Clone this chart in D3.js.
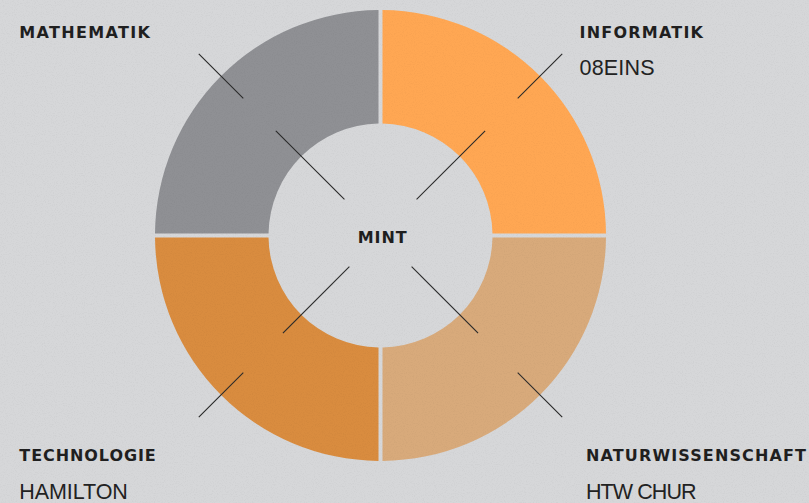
<!DOCTYPE html>
<html>
<head>
<meta charset="utf-8">
<script src="https://cdn.jsdelivr.net/npm/d3@7"></script>
<style>
  html, body { margin: 0; padding: 0; background: #d6d7d9; }
  svg { display: block; }
</style>
</head>
<body>
<div id="chart"></div>
<script>
// ---- data ----
const categories = ["INFORMATIK", "NATURWISSENSCHAFT", "TECHNOLOGIE", "MATHEMATIK"];
const values = [1, 1, 1, 1];
const partners = ["08EINS", "HTW CHUR", "HAMILTON", ""];
const centerLabel = "MINT";
const colors = ["#ffa753", "#d8aa7b", "#d98c3f", "#8f9094"];

// ---- layout ----
const W = 809, H = 503;
const cx = 380.5, cy = 235.5;
const rOuter = 225.5, rInner = 112;

const svg = d3.select("#chart").append("svg").attr("width", W).attr("height", H);
const defs = svg.append("defs");
const f = defs.append("filter").attr("id", "noise").attr("x", 0).attr("y", 0).attr("width", "100%").attr("height", "100%");
f.append("feTurbulence").attr("type", "fractalNoise").attr("baseFrequency", 0.9).attr("numOctaves", 2).attr("seed", 3).attr("result", "t");
f.append("feColorMatrix").attr("in", "t").attr("type", "matrix")
  .attr("values", "0 0 0 0 0  0 0 0 0 0  0 0 0 0 0  0 0 0 -0.9 0.5");

svg.append("rect").attr("width", W).attr("height", H).attr("fill", "#d6d7d9");

const g = svg.append("g").attr("transform", `translate(${cx},${cy})`);

const pie = d3.pie().sort(null).value(d => d.value);
const arcs = pie(categories.map((c, i) => ({ cat: c, value: values[i], color: colors[i] })));

const arc = d3.arc().innerRadius(rInner).outerRadius(rOuter)
  .padAngle(4 / Math.sqrt(rInner * rInner + rOuter * rOuter));

g.selectAll("path.seg").data(arcs).join("path")
  .attr("class", "seg")
  .attr("d", arc)
  .attr("fill", d => d.data.color);

// subtle paper texture
svg.append("rect").attr("width", W).attr("height", H)
  .attr("filter", "url(#noise)").attr("opacity", 0.08);

// leader lines per quadrant (inner pair and outer pair), along the mid angle
const innerSpans = [[51, 148], [44, 138], [44, 138], [51, 148]];
const outerSpan = [194, 257];
arcs.forEach((a, i) => {
  const ang = (a.startAngle + a.endAngle) / 2;
  const dx = Math.sin(ang), dy = -Math.cos(ang);
  [innerSpans[i], outerSpan].forEach(s => {
    g.append("line")
      .attr("x1", dx * s[0]).attr("y1", dy * s[0])
      .attr("x2", dx * s[1]).attr("y2", dy * s[1])
      .attr("stroke", "#2a2a2a").attr("stroke-width", 1.1);
  });
});

const boldFont = "DejaVu Sans, Verdana, sans-serif";

// center label
g.append("text").text(centerLabel)
  .attr("x", -22.8).attr("y", 7.2)
  .attr("font-family", boldFont)
  .attr("font-weight", "bold").attr("font-size", 16)
  .attr("textLength", 49).attr("lengthAdjust", "spacing")
  .attr("fill", "#1f1f1f");

// corner labels
const labelPos = [
  { x: 579.5, y: 37.7, w: 123.5, sy: 75, sw: 75 },
  { x: 586, y: 461, w: 220, sy: 499, sw: 110.5 },
  { x: 19.3, y: 461, w: 136.5, sy: 499, sw: 108.5 },
  { x: 19.3, y: 37.7, w: 130.7, sy: 75, sw: 0 }
];
categories.forEach((c, i) => {
  const p = labelPos[i];
  svg.append("text").text(c)
    .attr("x", p.x).attr("y", p.y)
    .attr("font-family", boldFont)
    .attr("font-weight", "bold").attr("font-size", 16)
    .attr("textLength", p.w).attr("lengthAdjust", "spacing")
    .attr("fill", "#1f1f1f");
  if (partners[i]) {
    svg.append("text").text(partners[i])
      .attr("x", p.x).attr("y", p.sy)
      .attr("font-family", "Liberation Sans, Arial, sans-serif")
      .attr("font-size", 21.5)
      .attr("textLength", p.sw).attr("lengthAdjust", "spacing")
      .attr("fill", "#222");
  }
});
</script>
</body>
</html>
